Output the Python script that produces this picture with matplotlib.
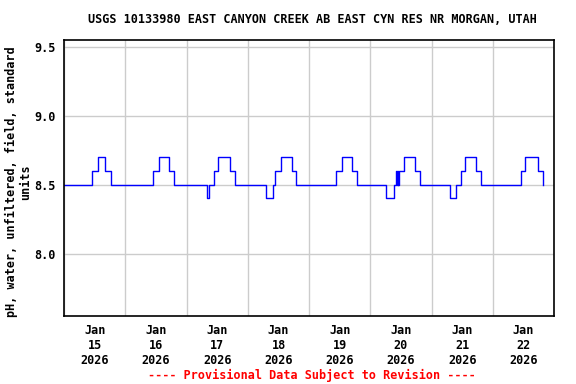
import numpy as np
import matplotlib
matplotlib.use("Agg")
import matplotlib.pyplot as plt
import matplotlib.dates as mdates

# pH readings, change points: hours since 2026-01-15 00:00 and the new level
change_hours = [0.0,
                10.7, 13.3, 16.1, 18.4,
                34.7, 37.3, 41.0, 43.1,
                55.9, 56.7, 58.6, 60.3, 64.8, 66.9,
                79.0, 81.9, 82.7, 84.8, 89.1, 90.9,
                106.7, 108.9, 113.0, 114.9,
                126.3, 129.2, 130.1, 130.4, 130.7, 130.9, 131.2, 133.2, 137.7, 139.3,
                151.2, 153.4, 155.4, 157.0, 161.5, 163.3,
                179.0, 180.8, 185.8, 187.6, 187.8]
ph_levels = [8.5,
             8.6, 8.7, 8.6, 8.5,
             8.6, 8.7, 8.6, 8.5,
             8.4, 8.5, 8.6, 8.7, 8.6, 8.5,
             8.4, 8.5, 8.6, 8.7, 8.6, 8.5,
             8.6, 8.7, 8.6, 8.5,
             8.4, 8.5, 8.6, 8.5, 8.6, 8.5, 8.6, 8.7, 8.6, 8.5,
             8.4, 8.5, 8.6, 8.7, 8.6, 8.5,
             8.6, 8.7, 8.6, 8.5, 8.5]

yticks = [8.0, 8.5, 9.0, 9.5]
title = "USGS 10133980 EAST CANYON CREEK AB EAST CYN RES NR MORGAN, UTAH"
ylabel = "pH, water, unfiltered, field, standard\nunits"
footer = "---- Provisional Data Subject to Revision ----"

start = np.datetime64("2026-01-15T00:00")
times = start + (np.array(change_hours) * 60).astype("timedelta64[m]")

font = "DejaVu Sans Mono"
fs = 8.5

fig = plt.figure(figsize=(5.76, 3.84), dpi=100)
ax = fig.add_axes([0.1116, 0.1779, 0.8502, 0.7187])

ax.plot(times, ph_levels, color="#0000ff", lw=1.0, drawstyle="steps-post")

ax.set_xlim(np.datetime64("2026-01-15T00:00"), np.datetime64("2026-01-23T00:00"))
ax.set_ylim(7.55, 9.55)

ax.xaxis.set_major_locator(mdates.DayLocator())
ax.xaxis.set_major_formatter(plt.NullFormatter())
ax.xaxis.set_minor_locator(mdates.HourLocator(byhour=[12]))
ax.xaxis.set_minor_formatter(mdates.DateFormatter("%b\n%d\n%Y"))
ax.set_yticks(yticks)
ax.set_yticklabels(["%.1f" % v for v in yticks])

ax.tick_params(which="both", length=0)
ax.tick_params(axis="x", which="minor", pad=6)
ax.tick_params(axis="y", pad=6)
for lab in ax.get_xticklabels(minor=True) + ax.get_yticklabels():
    lab.set_fontfamily(font)
    lab.set_fontweight("bold")
    lab.set_fontsize(fs)
    lab.set_linespacing(1.2)

ax.grid(True, which="major", color="#cccccc", lw=1.0)
ax.set_axisbelow(True)
for sp in ax.spines.values():
    sp.set_linewidth(1.2)

fig.text(0.032, 0.526, ylabel, rotation=90, ha="center", va="center",
         multialignment="center", fontfamily=font, fontweight="bold",
         fontsize=fs, linespacing=1.15)

fig.text(0.543, 0.95, title, ha="center", va="center", fontfamily=font,
         fontweight="bold", fontsize=fs)
fig.text(0.541, 0.023, footer, ha="center", va="center", fontfamily=font,
         fontweight="bold", fontsize=fs, color="red")

plt.savefig("out.png", dpi=100)
